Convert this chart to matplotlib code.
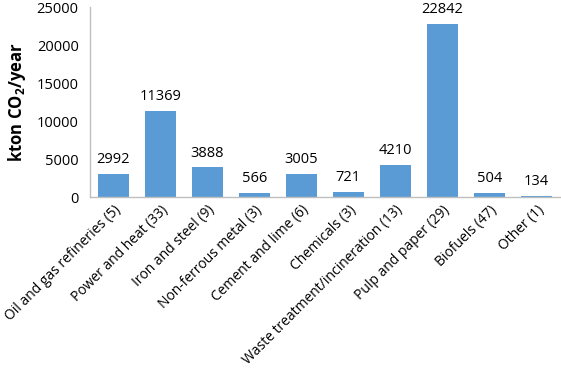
import matplotlib
matplotlib.use("Agg")
import matplotlib.pyplot as plt

categories = ["Oil and gas refineries (5)", "Power and heat (33)", "Iron and steel (9)",
              "Non-ferrous metal (3)", "Cement and lime (6)", "Chemicals (3)",
              "Waste treatment/incineration (13)", "Pulp and paper (29)", "Biofuels (47)", "Other (1)"]
values = [2992, 11369, 3888, 566, 3005, 721, 4210, 22842, 504, 134]
yticks = [0, 5000, 10000, 15000, 20000, 25000]

plt.rcParams['font.family'] = ['Open Sans', 'DejaVu Sans']
plt.rcParams['mathtext.fontset'] = 'custom'
plt.rcParams['mathtext.rm'] = 'Open Sans'
plt.rcParams['mathtext.bf'] = 'Open Sans:bold'

fig = plt.figure(figsize=(5.61, 3.76), dpi=100)
ax = fig.add_axes([0.160, 0.476, 0.838, 0.505])
x = range(len(categories))
bars = ax.bar(x, values, width=0.67, color="#5B9BD5")
for xi, v in zip(x, values):
    ax.annotate(str(v), (xi, v), xytext=(0, 5), textcoords="offset points",
                ha="center", va="bottom", fontsize=10.5, color="black")
ax.set_xlim(-0.5, len(categories) - 0.5)
ax.set_ylim(0, 25000)
ax.set_yticks(yticks)
ax.set_yticklabels([str(t) for t in yticks], fontsize=10.5)
ax.set_xticks(list(x))
ax.set_xticklabels(categories, rotation=45, ha="right", rotation_mode="anchor", fontsize=10)
ax.tick_params(length=0, pad=4)
ax.tick_params(axis='y', pad=8)
for s in ["top", "right"]:
    ax.spines[s].set_visible(False)
for s in ["left", "bottom"]:
    ax.spines[s].set_color("#BFBFBF")
    ax.spines[s].set_linewidth(1.0)
ax.set_ylabel(r"kton CO$\mathbf{_2}$/year", fontsize=12, fontweight="bold", labelpad=6)
fig.savefig("out.png", dpi=100)
